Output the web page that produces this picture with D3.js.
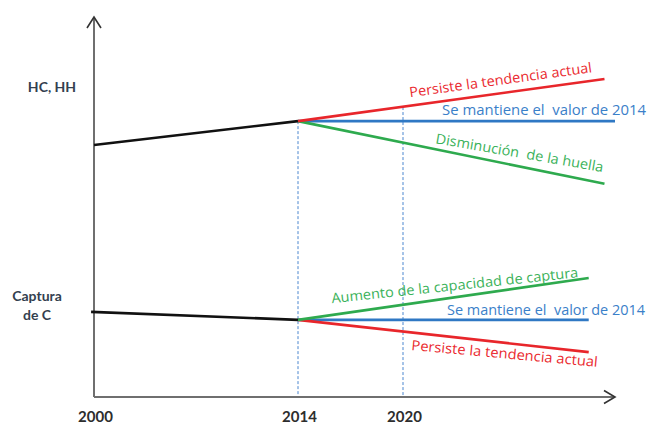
<!DOCTYPE html>
<html>
<head>
<meta charset="utf-8">
<script src="https://cdn.jsdelivr.net/npm/d3@7"></script>
<style>
  html, body { margin: 0; padding: 0; background: #fff; }
  svg { display: block; }
</style>
</head>
<body>
<div id="chart"></div>
<script>
// ---------- DATA ----------
const tickYears = [2000, 2014, 2020];
const tickLabels = ["2000", "2014", "2020"];
const yCategoryLabels = [["HC, HH"], ["Captura", "de C"]];
const yCategoryValues = [81.6, 24.1];

// Upper block (HC, HH)
const upperHistYears = [2000, 2014];
const upperHistValues = [66.3, 72.6];
const upperRedYears = [2014, 2031.5];
const upperRedValues = [72.6, 83.7];
const upperBlueYears = [2014, 2032.1];
const upperBlueValues = [72.6, 72.6];
const upperGreenYears = [2014, 2031.5];
const upperGreenValues = [72.6, 56.1];

// Lower block (Captura de C)
const lowerHistYears = [1999.8, 2014];
const lowerHistValues = [22.4, 20.3];
const lowerGreenYears = [2014, 2030.6];
const lowerGreenValues = [20.3, 31.3];
const lowerBlueYears = [2014, 2030.6];
const lowerBlueValues = [20.3, 20.3];
const lowerRedYears = [2014, 2030.6];
const lowerRedValues = [20.3, 11.8];

// Reference (dashed) verticals: year and top value
const guideYears = [2014, 2020];
const guideTops = [72.6, 76.3];

// Scenario labels
const labelTexts = [
  "Persiste la tendencia actual",
  "Se mantiene el\u00a0 valor de 2014",
  "Disminución\u00a0 de la huella",
  "Aumento de la capacidad de captura",
  "Se mantiene el\u00a0 valor de 2014",
  "Persiste la tendencia actual"
];
const labelColors = ["red", "blue", "green", "green", "blue", "red"];

// ---------- LAYOUT ----------
const W = 650, H = 426;
const COLORS = { red: "#e8262b", blue: "#2f78c4", green: "#2eaa4e", black: "#111111" };
const TEXTCOLORS = { red: "#ea2a30", blue: "#3a80c9", green: "#3bb25a" };

// schematic (piecewise) time axis
const x = d3.scaleLinear()
  .domain([2000, 2014, 2020, 2032.1])
  .range([94, 298, 403, 615]);
const y = d3.scaleLinear().domain([0, 100]).range([397, 17]);

// label placement (anchor year, anchor value, angle, length)
const labelLayout = [
  { yr: 2020.4,  v: 78.9, a: -7.8, len: 184 },
  { yr: 2022.23, v: 74.2, a: 0,    len: 204 },
  { yr: 2021.83, v: 66.8, a: 9.8,  len: 170 },
  { yr: 2015.94, v: 24.7, a: -6.0, len: 248 },
  { yr: 2022.51, v: 21.6, a: 0,    len: 198 },
  { yr: 2020.46, v: 12.4, a: 5.2,  len: 187 }
];

const svg = d3.select("#chart").append("svg")
  .attr("width", W).attr("height", H)
  .style("font-family", "'Open Sans', Lato, sans-serif");

// dashed guides
svg.append("g").selectAll("line")
  .data(guideYears.map((yr, i) => ({ yr, top: guideTops[i] })))
  .join("line")
  .attr("x1", d => x(d.yr)).attr("x2", d => x(d.yr))
  .attr("y1", d => y(d.top)).attr("y2", y(0))
  .attr("stroke", "#4a86cf").attr("stroke-width", 1)
  .attr("stroke-dasharray", "3,2");

// axes
const axisColor = "#6f6f6f";
const xAxisG = svg.append("g").attr("transform", `translate(0,${y(0)})`);
xAxisG.call(d3.axisBottom(x).tickValues(tickYears).tickSize(0).tickFormat(() => ""));
xAxisG.select(".domain").attr("stroke", axisColor).attr("stroke-width", 2)
  .attr("d", `M${x(2000)},0H${x(2032.1) - 1}`);
const yAxisG = svg.append("g").attr("transform", `translate(${x(2000)},0)`);
yAxisG.call(d3.axisLeft(y).tickValues([]).tickSize(0));
yAxisG.select(".domain").attr("stroke", axisColor).attr("stroke-width", 2)
  .attr("d", `M0,${y(0)}V${y(100) + 1}`);

// arrowheads
const ax = x(2000), ay = y(100);
svg.append("path")
  .attr("d", `M${ax - 7},${ay + 11}L${ax},${ay}L${ax + 7},${ay + 11}`)
  .attr("fill", "none").attr("stroke", "#333").attr("stroke-width", 1.6);
const bx = x(2032.1), by = y(0);
svg.append("path")
  .attr("d", `M${bx - 11},${by - 6.5}L${bx},${by}L${bx - 11},${by + 6.5}`)
  .attr("fill", "none").attr("stroke", "#333").attr("stroke-width", 1.6);

// tick labels
svg.append("g").selectAll("text")
  .data(tickYears.map((yr, i) => ({ yr, t: tickLabels[i] })))
  .join("text")
  .attr("x", d => x(d.yr) + 1.5).attr("y", 422)
  .attr("text-anchor", "middle")
  .attr("font-family", "Lato, 'Open Sans', sans-serif")
  .attr("font-size", 15).attr("font-weight", 700)
  .attr("fill", "#2d2d2d")
  .text(d => d.t);

// category labels
yCategoryLabels.forEach((lines, i) => {
  const t = svg.append("text")
    .attr("text-anchor", "middle")
    .attr("font-family", "Lato, 'Open Sans', sans-serif")
    .attr("font-size", 14).attr("font-weight", 700)
    .attr("fill", "#343f4f");
  const cx = lines.length === 1 ? 52 : 37;
  const baseY = y(yCategoryValues[i]) - (lines.length - 1) * 9.5 + 5;
  lines.forEach((ln, j) => {
    t.append("tspan").attr("x", cx).attr("y", baseY + j * 19).text(ln);
  });
});

// lines
const line = d3.line().x(d => x(d[0])).y(d => y(d[1]));
const series = [
  { yrs: upperHistYears, vals: upperHistValues, c: "black", w: 2.6 },
  { yrs: lowerHistYears, vals: lowerHistValues, c: "black", w: 2.6 },
  { yrs: upperBlueYears, vals: upperBlueValues, c: "blue", w: 2.6 },
  { yrs: upperGreenYears, vals: upperGreenValues, c: "green", w: 2.6 },
  { yrs: upperRedYears, vals: upperRedValues, c: "red", w: 2.6 },
  { yrs: lowerBlueYears, vals: lowerBlueValues, c: "blue", w: 2.6 },
  { yrs: lowerRedYears, vals: lowerRedValues, c: "red", w: 2.6 },
  { yrs: lowerGreenYears, vals: lowerGreenValues, c: "green", w: 2.6 }
];
svg.append("g").selectAll("path")
  .data(series)
  .join("path")
  .attr("d", d => line(d.yrs.map((yr, i) => [yr, d.vals[i]])))
  .attr("fill", "none")
  .attr("stroke", d => COLORS[d.c])
  .attr("stroke-width", d => d.w)
  .attr("stroke-linecap", "butt");

// scenario labels
svg.append("g").selectAll("text")
  .data(labelTexts.map((t, i) => ({ t, c: labelColors[i], ...labelLayout[i] })))
  .join("text")
  .attr("transform", d => `translate(${x(d.yr)},${y(d.v)}) rotate(${d.a})`)
  .attr("font-size", 14)
  .attr("fill", d => TEXTCOLORS[d.c])
  .attr("textLength", d => d.len)
  .attr("lengthAdjust", "spacingAndGlyphs")
  .style("white-space", "pre")
  .text(d => d.t);
</script>
</body>
</html>
